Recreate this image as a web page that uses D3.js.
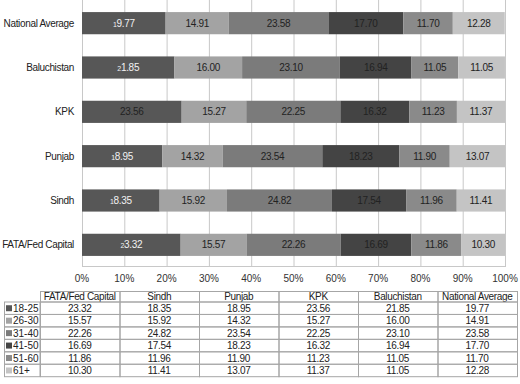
<!DOCTYPE html>
<html lang="en">
<head>
<meta charset="UTF-8">
<title>Age distribution by region</title>
<script src="https://cdnjs.cloudflare.com/ajax/libs/d3/7.8.5/d3.min.js"></script>
<style>
  body { margin: 0; background: #fff; font-family: "Liberation Sans", Arial, sans-serif; }
  svg { display: block; }
</style>
</head>
<body>
<svg id="chart" width="520" height="384"></svg>
<script>
// regions, in table column order
const regions = ["FATA/Fed Capital", "Sindh", "Punjab", "KPK", "Baluchistan", "National Average"];
const ageGroups = ["18-25", "26-30", "31-40", "41-50", "51-60", "61+"];

const v18_25 = [23.32, 18.35, 18.95, 23.56, 21.85, 19.77];
const v26_30 = [15.57, 15.92, 14.32, 15.27, 16.00, 14.91];
const v31_40 = [22.26, 24.82, 23.54, 22.25, 23.10, 23.58];
const v41_50 = [16.69, 17.54, 18.23, 16.32, 16.94, 17.70];
const v51_60 = [11.86, 11.96, 11.90, 11.23, 11.05, 11.70];
const v61 = [10.30, 11.41, 13.07, 11.37, 11.05, 12.28];
const seriesValues = [v18_25, v26_30, v31_40, v41_50, v51_60, v61];

const tickValues = [0, 0.1, 0.2, 0.3, 0.4, 0.5, 0.6, 0.7, 0.8, 0.9, 1];
const colors = ["#575757", "#a3a3a3", "#7b7b7b", "#444444", "#8a8a8a", "#c4c4c4"];

const svg = d3.select("#chart");

// rows of stacked data, one per region
const rows = regions.map((r, i) => {
  const row = { region: r };
  ageGroups.forEach((g, k) => row[g] = seriesValues[k][i]);
  return row;
});
const stacked = d3.stack().keys(ageGroups)(rows);

const x = d3.scaleLinear().domain([0, 100]).range([82, 505]);
// top to bottom: National Average first
const y = d3.scaleBand().domain(regions.slice().reverse()).range([1, 267]).paddingInner(0.5).paddingOuter(0.25);

// gridlines
svg.append("g").selectAll("line").data(tickValues).join("line")
  .attr("x1", d => x(d * 100) + 0.5).attr("x2", d => x(d * 100) + 0.5)
  .attr("y1", 0).attr("y2", 267)
  .attr("stroke", "#c8c8c8").attr("stroke-width", 1);
svg.append("line").attr("x1", x(0)).attr("x2", x(100) + 1).attr("y1", 266.5).attr("y2", 266.5)
  .attr("stroke", "#c8c8c8");

// bars
const layers = svg.append("g").selectAll("g").data(stacked).join("g")
  .attr("fill", (d, i) => colors[i]);
layers.selectAll("rect").data(d => d).join("rect")
  .attr("x", d => x(d[0]))
  .attr("width", d => x(d[1]) - x(d[0]))
  .attr("y", d => y(d.data.region))
  .attr("height", y.bandwidth());

// segment labels
stacked.forEach((layer, k) => {
  layer.forEach(d => {
    const cx = (x(d[0]) + x(d[1])) / 2;
    const cy = y(d.data.region) + y.bandwidth() / 2 + 3.5;
    const txt = d.data[ageGroups[k]].toFixed(2);
    const t = svg.append("text")
      .attr("x", cx).attr("y", cy)
      .attr("text-anchor", "middle")
      .attr("font-size", "10px")
      .attr("letter-spacing", "-0.3px");
    if (k === 0 && d.data.region !== "KPK") {
      t.attr("fill", "#f2f2f2");
      t.append("tspan").attr("font-size", "7px").text(txt[0]);
      t.append("tspan").text(txt.slice(1));
    } else {
      t.attr("fill", "#222").text(txt);
    }
  });
});

// category labels
svg.append("g").selectAll("text").data(regions).join("text")
  .attr("x", 74).attr("y", d => y(d) + y.bandwidth() / 2 + 3.5)
  .attr("text-anchor", "end")
  .attr("font-size", "10px")
  .attr("letter-spacing", "-0.35px")
  .attr("fill", "#222")
  .text(d => d);

// tick labels
svg.append("g").selectAll("text").data(tickValues).join("text")
  .attr("x", d => x(d * 100)).attr("y", 282)
  .attr("text-anchor", "middle")
  .attr("font-size", "10px")
  .attr("fill", "#333")
  .text(d => d3.format(".0%")(d));

// data table
const tableTop = 291, headH = 10.5, rowH = 12.45;
const colX = d3.scaleBand().domain(regions).range([40, 517]);
const tbl = svg.append("g");
const border = "#a6a6a6";

// header cells
regions.forEach(r => {
  tbl.append("rect").attr("x", colX(r) + 0.5).attr("y", tableTop + 0.5)
    .attr("width", colX.bandwidth()).attr("height", headH)
    .attr("fill", "none").attr("stroke", border);
  tbl.append("text").attr("x", colX(r) + colX.bandwidth() / 2).attr("y", tableTop + headH - 1.5)
    .attr("text-anchor", "middle").attr("font-size", "10px").attr("letter-spacing", "-0.35px")
    .attr("fill", "#222").text(r);
});

ageGroups.forEach((g, k) => {
  const ry = tableTop + headH + k * rowH;
  tbl.append("rect").attr("x", 4.5).attr("y", ry + 0.5)
    .attr("width", 35.5).attr("height", rowH)
    .attr("fill", "none").attr("stroke", border);
  tbl.append("rect").attr("x", 6).attr("y", ry + rowH / 2 - 2.5)
    .attr("width", 6).attr("height", 6).attr("fill", colors[k]);
  tbl.append("text").attr("x", 13).attr("y", ry + rowH / 2 + 4)
    .attr("font-size", "10px").attr("fill", "#222").text(g);
  regions.forEach((r, i) => {
    tbl.append("rect").attr("x", colX(r) + 0.5).attr("y", ry + 0.5)
      .attr("width", colX.bandwidth()).attr("height", rowH)
      .attr("fill", "none").attr("stroke", border);
    tbl.append("text").attr("x", colX(r) + colX.bandwidth() / 2).attr("y", ry + rowH / 2 + 4)
      .attr("text-anchor", "middle").attr("font-size", "10px").attr("letter-spacing", "-0.3px")
      .attr("fill", "#222").text(seriesValues[k][i].toFixed(2));
  });
});
</script>
</body>
</html>
